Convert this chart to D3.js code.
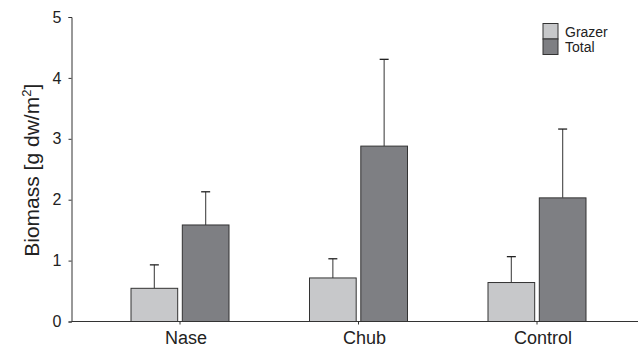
<!DOCTYPE html>
<meta charset="utf-8">
<style>
    body { margin: 0; background: #fff; }
    text { font-family: "Liberation Sans", Arial, sans-serif; fill: #222; }
</style>
<svg width="638" height="348"></svg>
<script src="https://cdn.jsdelivr.net/npm/d3@7"></script>
<script>

    var categories = ["Nase", "Chub", "Control"];
    var series = ["Grazer", "Total"];
    var grazerMean = [0.545, 0.715, 0.64];
    var grazerErr = [0.93, 1.03, 1.065];
    var totalMean = [1.585, 2.88, 2.03];
    var totalErr = [2.13, 4.305, 3.16];
    var yTicks = [0, 1, 2, 3, 4, 5];

    var colors = {"Grazer": "#c7c8ca", "Total": "#7e7f83"};

    var svg = d3.select("svg"),
        margin = {top: 17, right: 0, bottom: 26.5, left: 71.5},
        width = svg.attr("width") - margin.left - margin.right,
        height = svg.attr("height") - margin.top - margin.bottom,
        g = svg.append("g").attr("transform", "translate(" + margin.left + "," + margin.top + ")");

    var data = categories.map(function(c, i) {
        return {
            cat: c,
            values: [
                {key: "Grazer", mean: grazerMean[i], err: grazerErr[i]},
                {key: "Total", mean: totalMean[i], err: totalErr[i]}
            ]
        };
    });

    // category centres sit at 108, 287, 465 px from the axis
    var x0 = d3.scaleLinear().domain([0, 2]).range([108.5, 465.5]);
    var x1 = d3.scaleBand().domain(series).range([-49, 49]).paddingInner(0.09);
    var y = d3.scaleLinear().domain([0, 5]).range([height, 0]);

    // y axis
    var yAxis = g.append("g")
        .call(d3.axisLeft(y).tickValues(yTicks).tickSize(3).tickPadding(7).tickFormat(d3.format("d")));
    yAxis.select(".domain").attr("stroke", "#333");
    yAxis.selectAll(".tick line").attr("stroke", "#333");
    yAxis.selectAll(".tick text").style("font-size", "16px").attr("fill", "#222");

    var ylab = g.append("text")
        .attr("transform", "translate(-33," + (height / 2 + 1) + ") rotate(-90)")
        .attr("text-anchor", "middle")
        .style("font-size", "21px")
        .text("Biomass [g dw/m");
    ylab.append("tspan").attr("dy", "-8").style("font-size", "13px").text("2");
    ylab.append("tspan").attr("dy", "8").text("]");

    // bars
    var group = g.selectAll(".cat")
        .data(data)
        .enter().append("g")
        .attr("class", "cat")
        .attr("transform", function(d, i) { return "translate(" + x0(i) + ",0)"; });

    var bar = group.selectAll(".bar")
        .data(function(d) { return d.values; })
        .enter().append("g");

    bar.append("line")
        .attr("x1", function(d) { return x1(d.key) + x1.bandwidth() / 2; })
        .attr("x2", function(d) { return x1(d.key) + x1.bandwidth() / 2; })
        .attr("y1", function(d) { return y(d.mean); })
        .attr("y2", function(d) { return y(d.err); })
        .attr("stroke", "#555")
        .attr("stroke-width", 1.2);

    bar.append("line")
        .attr("x1", function(d) { return x1(d.key) + x1.bandwidth() / 2 - 4.5; })
        .attr("x2", function(d) { return x1(d.key) + x1.bandwidth() / 2 + 4.5; })
        .attr("y1", function(d) { return y(d.err); })
        .attr("y2", function(d) { return y(d.err); })
        .attr("stroke", "#222")
        .attr("stroke-width", 1.3);

    bar.append("rect")
        .attr("x", function(d) { return x1(d.key); })
        .attr("y", function(d) { return y(d.mean); })
        .attr("width", x1.bandwidth())
        .attr("height", function(d) { return height - y(d.mean); })
        .attr("fill", function(d) { return colors[d.key]; })
        .attr("stroke", "#333")
        .attr("stroke-width", 1);

    // x axis
    var xAxis = g.append("g")
        .attr("transform", "translate(0," + height + ")");
    xAxis.append("line")
        .attr("x1", 0).attr("x2", width)
        .attr("stroke", "#333").attr("stroke-width", 1.2);
    xAxis.selectAll(".tick")
        .data(categories)
        .enter().append("line")
        .attr("x1", function(d, i) { return x0(i); })
        .attr("x2", function(d, i) { return x0(i); })
        .attr("y1", 0).attr("y2", 3)
        .attr("stroke", "#333");
    xAxis.selectAll(".lab")
        .data(categories)
        .enter().append("text")
        .attr("x", function(d, i) { return x0(i) + 6; })
        .attr("y", 22)
        .attr("text-anchor", "middle")
        .style("font-size", "18px")
        .text(function(d) { return d; });

    // legend
    var legend = svg.selectAll(".legend")
        .data(series)
        .enter().append("g")
        .attr("transform", function(d, i) { return "translate(543," + (23.5 + i * 15.5) + ")"; });
    legend.append("rect")
        .attr("width", 15).attr("height", 15.5)
        .attr("fill", function(d) { return colors[d]; })
        .attr("stroke", "#333");
    legend.append("text")
        .attr("x", 22).attr("y", 13)
        .style("font-size", "14px")
        .text(function(d) { return d; });

</script>
